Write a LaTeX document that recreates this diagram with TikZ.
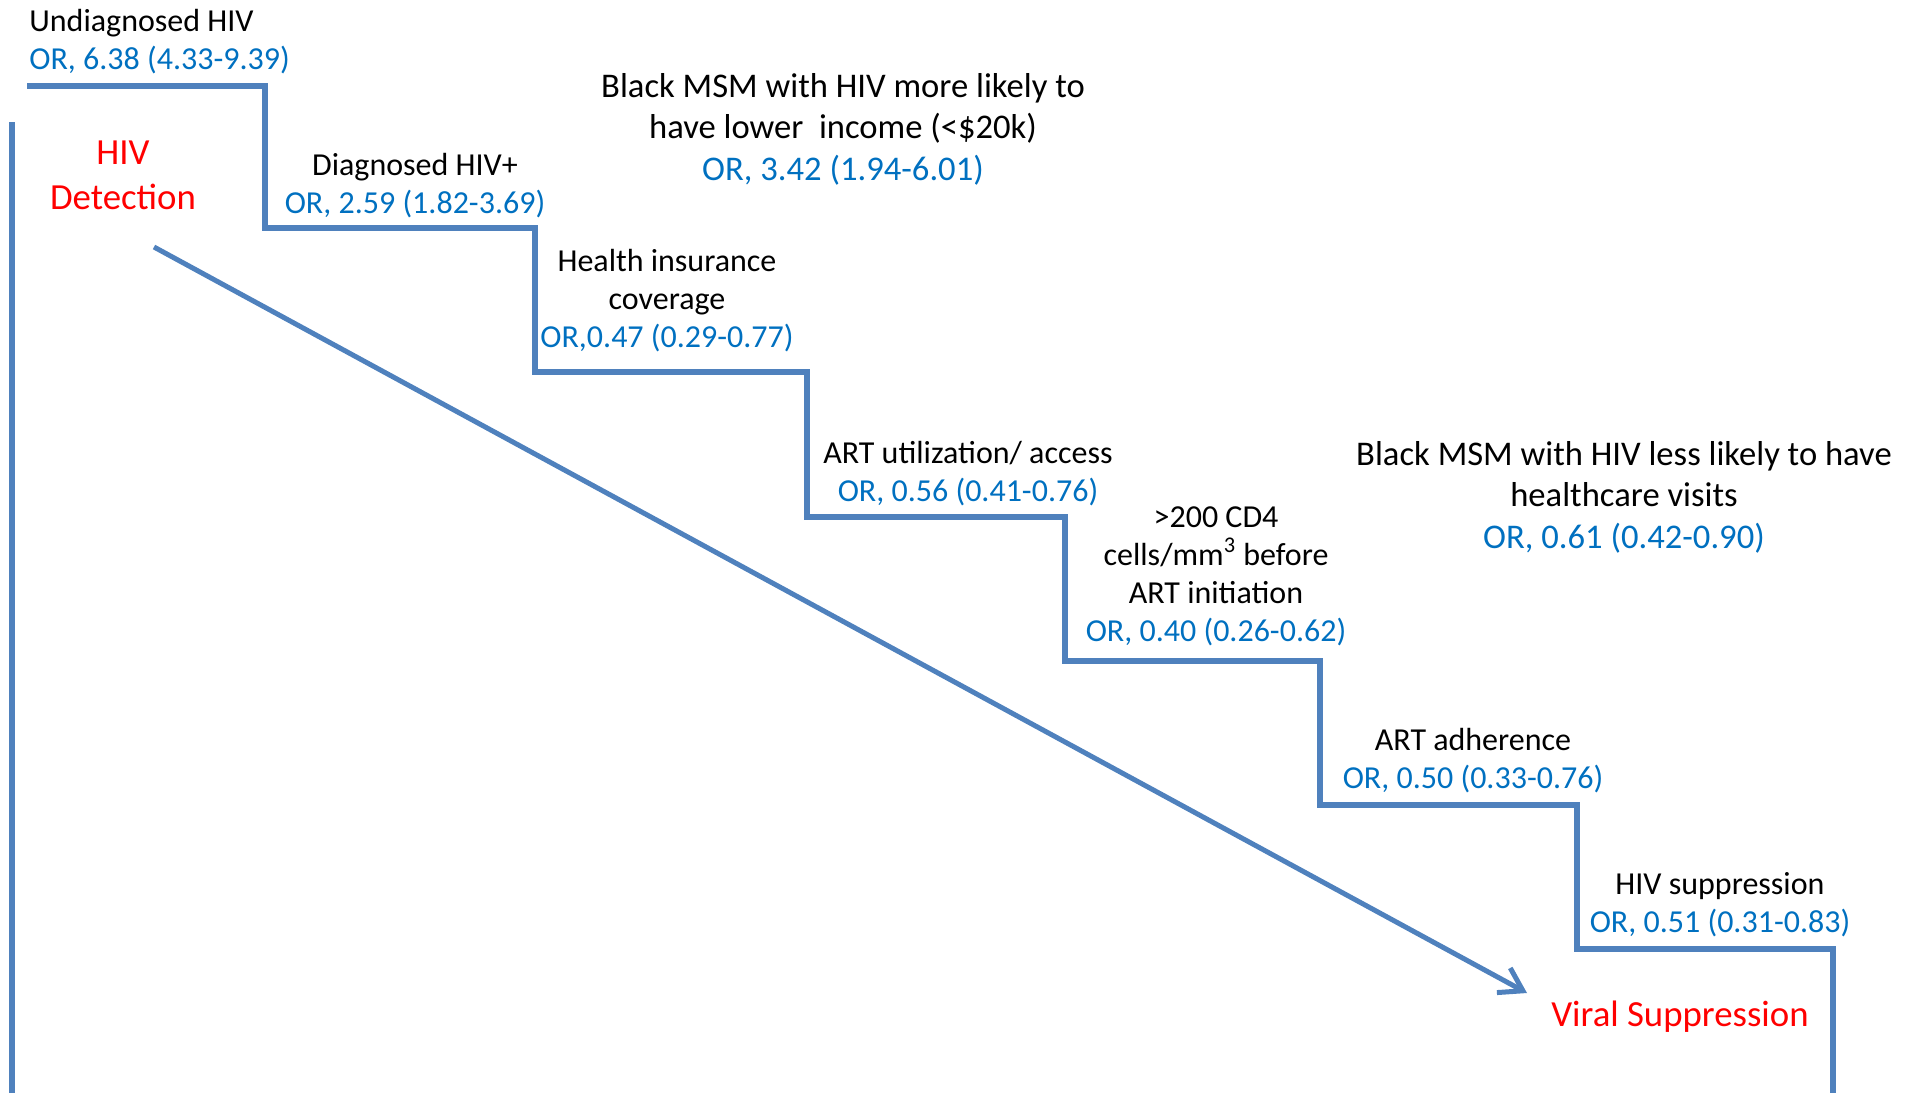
\documentclass[tikz,border=0pt]{standalone}
\usepackage{fontspec}
\setmainfont{Carlito}
\usetikzlibrary{positioning, arrows.meta}
\definecolor{stairblue}{RGB}{79,129,189}
\definecolor{orblue}{RGB}{0,112,192}

\begin{document}
\begin{tikzpicture}[
  x=0.5pt, y=-0.5pt,
  stair/.style={draw=stairblue, line width=2.7pt, line join=miter},
  axis/.style={draw=stairblue, line width=3pt},
  arr/.style={-{Straight Barb[length=11pt, width=14pt, line width=2.5pt]}, draw=stairblue, line width=2.5pt},
  lbl/.style={font=\fontsize{16}{19}\selectfont, align=center, inner sep=0pt},
  note/.style={font=\fontsize{17.3}{20.75}\selectfont, align=center, inner sep=0pt},
  stage/.style={font=\fontsize{18.4}{22.5}\selectfont, text=red, align=center, inner sep=0pt},
]
\useasboundingbox (0,0) rectangle (1915,1092);

% Staircase
\draw[stair] (27,86) -| (265,228) -| (535,372) -| (807,517) -| (1065,661)
  -| (1320,805) -| (1577,949) -| (1833,1100);
\draw[axis] (12,122) -- (12,1100);

% Steps
\node[lbl, align=left, anchor=west] (undiag) at (29,42)
  {Undiagnosed HIV\\\textcolor{orblue}{OR, 6.38 (4.33-9.39)}};
\node[lbl] (diag) at (415,186)
  {Diagnosed HIV+\\\textcolor{orblue}{OR, 2.59 (1.82-3.69)}};
\node[lbl] (insur) at (667,301)
  {Health insurance\\coverage\\\textcolor{orblue}{OR,0.47 (0.29-0.77)}};
\node[lbl] (artuse) at (968,474)
  {ART utilization/ access\\\textcolor{orblue}{OR, 0.56 (0.41-0.76)}};
\node[lbl] (cdfour) at (1216,576)
  {>200 CD4\\cells/mm\textsuperscript{3} before\\ART initiation\\\textcolor{orblue}{OR, 0.40 (0.26-0.62)}};
\node[lbl] (adher) at (1473,761)
  {ART adherence\\\textcolor{orblue}{OR, 0.50 (0.33-0.76)}};
\node[lbl] (suppr) at (1720,905)
  {HIV suppression\\\textcolor{orblue}{OR, 0.51 (0.31-0.83)}};

% Notes
\node[note] (income) at (843,129)
  {Black MSM with HIV more likely to\\have lower~ income (<\$20k)\\\textcolor{orblue}{OR, 3.42 (1.94-6.01)}};
\node[note] (visits) at (1624,497)
  {Black MSM with HIV less likely to have\\healthcare visits\\\textcolor{orblue}{OR, 0.61 (0.42-0.90)}};

% Start and end
\node[stage] (detect) at (123,175) {HIV\\Detection};
\node[stage] (viral) at (1680,1017) {Viral Suppression};
\coordinate (arrs) at (154,247);
\coordinate (arre) at (1527,993);
\draw[arr] (arrs) -- (arre);

\end{tikzpicture}
\end{document}
